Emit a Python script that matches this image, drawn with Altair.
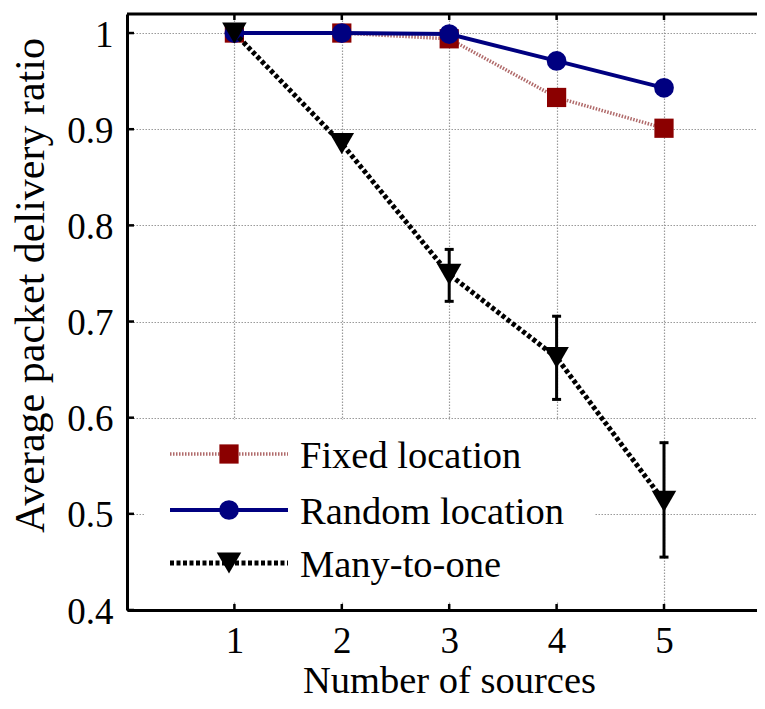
import altair as alt
import pandas as pd

# ---- data ----
sources = [1, 2, 3, 4, 5]
fixed_loc = [1.0, 1.0, 0.994, 0.933, 0.901]
random_loc = [1.0, 1.0, 0.999, 0.971, 0.943]
many_to_one = [1.0, 0.885, 0.749, 0.6625, 0.513]
err_x = [3, 4, 5]
err_lo = [0.721, 0.619, 0.455]
err_hi = [0.775, 0.7055, 0.574]
series_names = ["Fixed location", "Random location", "Many-to-one"]
x_ticks = [1, 2, 3, 4, 5]
y_ticks = [0.4, 0.5, 0.6, 0.7, 0.8, 0.9, 1.0]

# ---- layout / style ----
W, H = 630, 596
FONT = "'Liberation Serif', 'Times New Roman', 'DejaVu Serif', serif"
X_MAX = W / 107.4
Y_MAX = 1.0198

xs = alt.Scale(domain=[0, X_MAX], nice=False, zero=False)
ys = alt.Scale(domain=[0.4, Y_MAX], nice=False, zero=False)

grid_kw = dict(grid=True, gridColor="#9a9a9a", gridDash=[1.5, 1.5], gridWidth=1.2,
               ticks=False, domainColor="black", domainWidth=3,
               labelFont=FONT, labelColor="black",
               titleFont=FONT, titleFontWeight="normal", titleColor="black")

xaxis = alt.Axis(values=x_ticks, title="Number of sources", labelFontSize=37,
                 labelPadding=13, titleFontSize=38.5, titleX=322, titleY=82,
                 titleBaseline="alphabetic", titleAlign="center", **grid_kw)
yaxis = alt.Axis(values=y_ticks, format="~g", title="Average packet delivery ratio",
                 labelFontSize=37, labelPadding=14, labelOffset=2,
                 titleFontSize=42, titleX=-84, titleY=271, titleAngle=270,
                 titleBaseline="alphabetic", titleAlign="center", **grid_kw)


def X(field):
    return alt.X(f"{field}:Q", scale=xs, axis=xaxis)


def Y(field):
    return alt.Y(f"{field}:Q", scale=ys, axis=yaxis)


df_fixed = pd.DataFrame({"x": sources, "y": fixed_loc})
df_random = pd.DataFrame({"x": sources, "y": random_loc})
df_many = pd.DataFrame({"x": sources, "y": many_to_one})
df_err = pd.DataFrame({"x": err_x, "lo": err_lo, "hi": err_hi})
df_xt = pd.DataFrame({"x": x_ticks})
df_yt = pd.DataFrame({"y": y_ticks})
one = pd.DataFrame({"a": [0]})

styles = {
    "Fixed location": dict(line=dict(color="#b06a6a", strokeWidth=3.5, strokeDash=[1.5, 1.5]),
                           pt=dict(shape="square", size=370, color="#8b0000")),
    "Random location": dict(line=dict(color="#000080", strokeWidth=4),
                            pt=dict(shape="circle", size=390, color="#000080")),
    "Many-to-one": dict(line=dict(color="black", strokeWidth=5, strokeDash=[4, 2.5]),
                        pt=dict(shape="triangle-down", size=600, color="black")),
}

layers = []

# legend background (hides grid)
layers.append(alt.Chart(one).mark_rect(color="white").encode(
    x=alt.value(18), x2=alt.value(468), y=alt.value(406), y2=alt.value(588)))

for name, df in zip(series_names, [df_fixed, df_random, df_many]):
    st = styles[name]
    layers.append(alt.Chart(df).mark_line(**st["line"]).encode(x=X("x"), y=Y("y")))
    if name == "Many-to-one":
        layers.append(alt.Chart(df_err).mark_rule(color="black", strokeWidth=3).encode(
            x=X("x"), y=Y("lo"), y2="hi:Q"))
        layers.append(alt.Chart(df_err).mark_tick(color="black", orient="horizontal", size=9,
                                                  thickness=3, opacity=1).encode(x=X("x"), y=Y("lo")))
        layers.append(alt.Chart(df_err).mark_tick(color="black", orient="horizontal", size=9,
                                                  thickness=3, opacity=1).encode(x=X("x"), y=Y("hi")))
    layers.append(alt.Chart(df).mark_point(filled=True, opacity=1, **st["pt"]).encode(
        x=X("x"), y=Y("y")))

# top border
layers.append(alt.Chart(one).mark_rule(color="black", strokeWidth=3).encode(
    x=alt.value(0), x2=alt.value(W), y=alt.value(0)))
# inward ticks
layers.append(alt.Chart(df_xt).mark_rule(color="black", strokeWidth=2.5).encode(
    x=X("x"), y=alt.value(H), y2=alt.value(H - 6)))
layers.append(alt.Chart(df_xt).mark_rule(color="black", strokeWidth=2.5).encode(
    x=X("x"), y=alt.value(0), y2=alt.value(6)))
layers.append(alt.Chart(df_yt).mark_rule(color="black", strokeWidth=2.5).encode(
    y=Y("y"), x=alt.value(0), x2=alt.value(7)))

# legend entries
row_y = [440, 496, 549]
for name, ry in zip(series_names, row_y):
    st = styles[name]
    lab = pd.DataFrame({"label": [name]})
    layers.append(alt.Chart(lab).mark_rule(**st["line"]).encode(
        x=alt.value(43), x2=alt.value(161), y=alt.value(ry)))
    layers.append(alt.Chart(lab).mark_point(filled=True, opacity=1, **st["pt"]).encode(
        x=alt.value(102), y=alt.value(ry)))
    layers.append(alt.Chart(lab).mark_text(align="left", baseline="alphabetic", font=FONT,
                                           fontSize=38.5, color="black").encode(
        x=alt.value(173), y=alt.value(ry + 14), text="label:N"))

chart = alt.layer(*layers).properties(
    width=W, height=H,
    padding={"left": 119, "top": 6, "right": 0, "bottom": 91},
    autosize=alt.AutoSizeParams(type="none"),
).configure_view(strokeWidth=0).configure(background="white")

chart.save("out.html", embed_options={"renderer": "svg", "actions": False})
